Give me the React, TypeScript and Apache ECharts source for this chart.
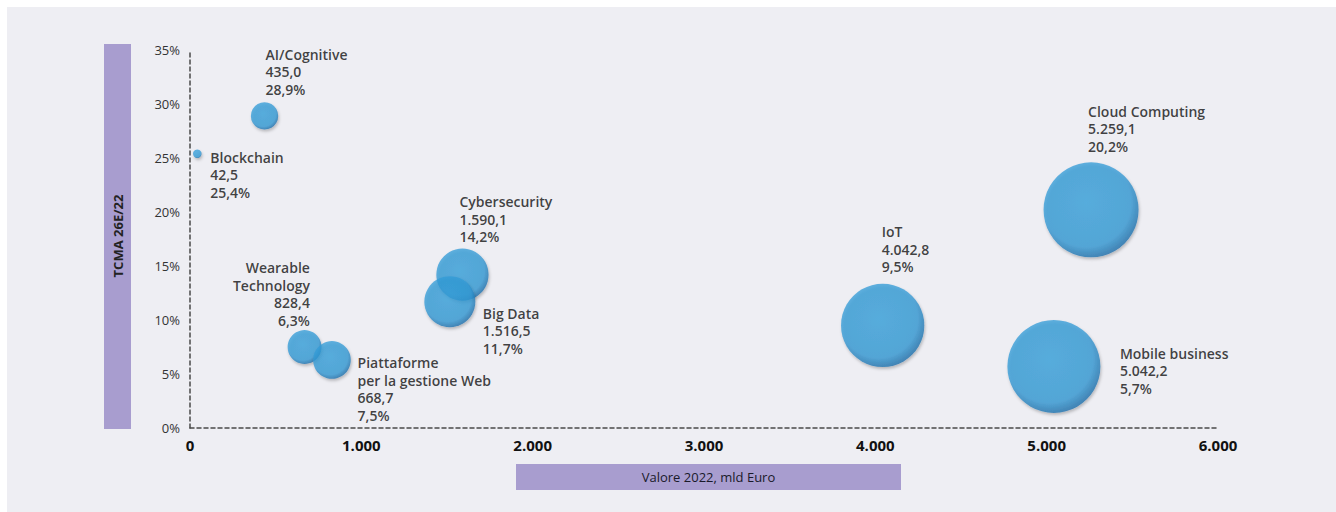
import React, { useEffect, useRef } from "react";
import * as echarts from "echarts";

const names = [
  "AI/Cognitive",
  "Blockchain",
  "Cybersecurity",
  "Big Data",
  "Piattaforme\nper la gestione Web",
  "Wearable\nTechnology",
  "IoT",
  "Cloud Computing",
  "Mobile business",
];
const values2022 = [435.0, 42.5, 1590.1, 1516.5, 668.7, 828.4, 4042.8, 5259.1, 5042.2];
const cagr = [28.9, 25.4, 14.2, 11.7, 7.5, 6.3, 9.5, 20.2, 5.7];
const xTicks = [0, 1000, 2000, 3000, 4000, 5000, 6000];
const yTicks = [0, 5, 10, 15, 20, 25, 30, 35];

// label placement (styles only)
const labelPlacement: any[] = [
  { align: "left", verticalAlign: "bottom", offset: [1, -18] },
  { align: "left", verticalAlign: "top", offset: [13, -5] },
  { align: "left", verticalAlign: "bottom", offset: [-3, -29] },
  { align: "left", verticalAlign: "top", offset: [33, 3] },
  { align: "left", verticalAlign: "top", offset: [53, 7] },
  { align: "right", verticalAlign: "bottom", offset: [-22, -31] },
  { align: "left", verticalAlign: "bottom", offset: [-1, -50] },
  { align: "left", verticalAlign: "bottom", offset: [-3, -55] },
  { align: "left", verticalAlign: "top", offset: [66, -22] },
];

const fmtThousands = (v: number, dec: number) => {
  const [i, d] = v.toFixed(dec).split(".");
  const ii = i.replace(/\B(?=(\d{3})+(?!\d))/g, ".");
  return d !== undefined ? `${ii},${d}` : ii;
};

export default function App() {
  const ref = useRef<HTMLDivElement>(null);
  useEffect(() => {
    if (!ref.current) return;
    const chart = echarts.init(ref.current, null, { renderer: "svg" });
    const font = "'Open Sans', Lato, sans-serif";
    const bubbleColor = new echarts.graphic.RadialGradient(0.45, 0.42, 0.6, [
      { offset: 0, color: "rgba(54,162,222,0.95)" },
      { offset: 0.78, color: "rgba(50,154,214,0.95)" },
      { offset: 1, color: "rgba(28,108,168,0.97)" },
    ]);
    const data = names.map((n, i) => ({
      name: n,
      value: [values2022[i], cagr[i]],
      label: {
        show: true,
        position: "inside",
        ...labelPlacement[i],
        formatter: `${n}\n${fmtThousands(values2022[i], 1)}\n${fmtThousands(cagr[i], 1)}%`,
      },
    }));
    chart.setOption({
      animation: false,
      backgroundColor: "#eeeef3",
      textStyle: { fontFamily: font },
      grid: { left: 183, right: 118, top: 43, bottom: 84, containLabel: false },
      xAxis: {
        type: "value",
        min: xTicks[0],
        max: xTicks[xTicks.length - 1],
        interval: 1000,
        splitLine: { show: false },
        axisTick: { show: false },
        axisLine: { show: true, lineStyle: { color: "#4a4a4a", width: 1.5, type: [4, 3] } },
        axisLabel: {
          margin: 9,
          fontSize: 15,
          fontWeight: "bold",
          color: "#111",
          fontFamily: font,
          formatter: (v: number) => fmtThousands(v, 0),
        },
      },
      yAxis: {
        type: "value",
        min: yTicks[0],
        max: yTicks[yTicks.length - 1],
        interval: 5,
        splitLine: { show: false },
        axisTick: { show: false },
        axisLine: { show: true, lineStyle: { color: "#4a4a4a", width: 1.5, type: [4, 3] } },
        axisLabel: {
          margin: 10,
          fontSize: 13,
          color: "#333",
          fontFamily: font,
          formatter: (v: number) => `${v}%`,
        },
      },
      graphic: [
        {
          type: "rect",
          shape: { x: 97, y: 37, width: 27, height: 385 },
          style: { fill: "#a89dcf" },
          z: 1,
        },
        {
          type: "text",
          x: 110.5,
          y: 229,
          rotation: Math.PI / 2,
          style: {
            text: "TCMA 26E/22",
            fill: "#222",
            font: `bold 13px ${font}`,
            textAlign: "center",
            textVerticalAlign: "middle",
          },
          z: 2,
        },
        {
          type: "rect",
          shape: { x: 509, y: 457, width: 385, height: 26 },
          style: { fill: "#a89dcf" },
          z: 1,
        },
        {
          type: "text",
          x: 701.5,
          y: 470,
          style: {
            text: "Valore 2022, mld Euro",
            fill: "#1a1a2a",
            font: `13px ${font}`,
            textAlign: "center",
            textVerticalAlign: "middle",
          },
          z: 2,
        },
      ],
      series: [
        {
          type: "scatter",
          data,
          symbol: "circle",
          symbolSize: (val: number[]) => Math.sqrt(val[0]) * 1.31,
          itemStyle: {
            color: bubbleColor,
            shadowColor: "rgba(0,0,0,0.3)",
            shadowBlur: 3,
            shadowOffsetX: 1,
            shadowOffsetY: 2,
          },
          label: {
            color: "#111",
            fontSize: 14,
            fontWeight: 600,
            lineHeight: 17.5,
            fontFamily: font,
          },
          emphasis: { disabled: true },
        },
      ],
    });
    return () => chart.dispose();
  }, []);
  return (
    <div
      ref={ref}
      style={{ position: "fixed", left: 7, top: 7, width: 1329, height: 505 }}
    />
  );
}
